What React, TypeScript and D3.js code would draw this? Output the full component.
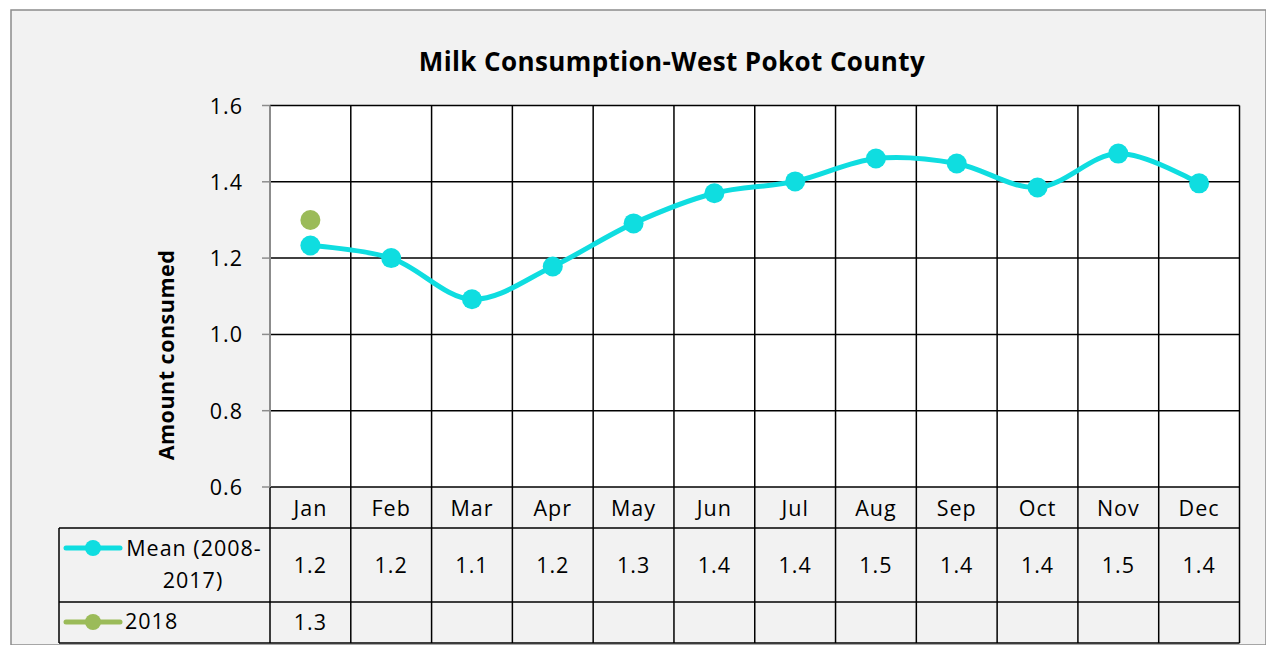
import React, { useEffect, useRef } from "react";
import * as d3 from "d3";

const months = ["Jan", "Feb", "Mar", "Apr", "May", "Jun", "Jul", "Aug", "Sep", "Oct", "Nov", "Dec"];
const meanValues = [1.233, 1.2, 1.092, 1.178, 1.291, 1.37, 1.401, 1.461, 1.448, 1.385, 1.474, 1.396];
const values2018 = [1.3];
const yTicks = [0.6, 0.8, 1.0, 1.2, 1.4, 1.6];
const title = "Milk Consumption-West Pokot County";
const yTitle = "Amount consumed";
const meanLabel = ["Mean (2008-", "2017)"];
const label2018 = "2018";

const W = 1266, H = 645;
const FONT = "'Open Sans', sans-serif";
const FS = 21.5;
const LS = 1;

export default function App() {
  const ref = useRef<SVGSVGElement>(null);
  useEffect(() => {
    const svg = d3.select(ref.current);
    svg.selectAll("*").remove();

    const left = 270, right = 1239.5, top = 105.5, bottom = 487;
    const tableLeft = 59;
    const rowHeader = [487, 528];
    const rowMean = [528, 602];
    const row2018 = [602, 643];

    svg.append("rect").attr("x", 0).attr("y", 0).attr("width", W).attr("height", H).attr("fill", "#ffffff");
    svg.append("rect").attr("x", 11).attr("y", 10).attr("width", W - 11).attr("height", H - 10)
      .attr("fill", "#f2f2f2").attr("stroke", "#8c8c8c").attr("stroke-width", 1.5);

    const x = d3.scaleBand<string>().domain(months).range([left, right]).padding(0);
    const y = d3.scaleLinear().domain([0.6, 1.6]).range([bottom, top]);

    svg.append("rect").attr("x", left).attr("y", top).attr("width", right - left).attr("height", bottom - top).attr("fill", "#ffffff");

    const g = svg.append("g");
    yTicks.forEach((t) => {
      g.append("line").attr("x1", left).attr("x2", right).attr("y1", y(t)).attr("y2", y(t))
        .attr("stroke", "#000").attr("stroke-width", 1.5);
    });
    months.forEach((m) => {
      const xx = (x(m) as number) + x.bandwidth();
      g.append("line").attr("x1", xx).attr("x2", xx).attr("y1", top).attr("y2", row2018[1])
        .attr("stroke", "#000").attr("stroke-width", 1.5);
    });
    [rowHeader[1], rowMean[1], row2018[1]].forEach((yy) => {
      g.append("line").attr("x1", tableLeft).attr("x2", right).attr("y1", yy).attr("y2", yy)
        .attr("stroke", "#000").attr("stroke-width", 1.5);
    });
    g.append("line").attr("x1", tableLeft).attr("x2", tableLeft).attr("y1", rowHeader[1]).attr("y2", row2018[1])
      .attr("stroke", "#000").attr("stroke-width", 1.5);
    g.append("line").attr("x1", left).attr("x2", left).attr("y1", bottom).attr("y2", row2018[1])
      .attr("stroke", "#000").attr("stroke-width", 1.5);

    g.append("line").attr("x1", left).attr("x2", left).attr("y1", top).attr("y2", bottom)
      .attr("stroke", "#8c8c8c").attr("stroke-width", 2);

    const txt = (sel: any, xx: number, yy: number, s: string, anchor = "middle", size = FS, ls = LS, weight = "normal") =>
      sel.append("text").attr("x", xx).attr("y", yy).attr("text-anchor", anchor)
        .attr("font-family", FONT).attr("font-size", size).attr("font-weight", weight)
        .attr("letter-spacing", ls).attr("fill", "#000").text(s);

    yTicks.forEach((t) => {
      g.append("line").attr("x1", left - 8).attr("x2", left).attr("y1", y(t)).attr("y2", y(t))
        .attr("stroke", "#8c8c8c").attr("stroke-width", 1.5);
      txt(g, 243, y(t) + 8, d3.format(".1f")(t), "end");
    });

    txt(svg, 672, 71, title, "middle", 26, 0.4, "bold");
    svg.append("text").attr("transform", `translate(174,355) rotate(-90)`).attr("text-anchor", "middle")
      .attr("font-family", FONT).attr("font-size", FS).attr("font-weight", "bold").attr("letter-spacing", 0.5).text(yTitle);

    const cx = (m: string) => (x(m) as number) + x.bandwidth() / 2;
    const fmt = d3.format(".1f");

    months.forEach((m, i) => {
      txt(g, cx(m), 516, m);
      txt(g, cx(m), 573, fmt(meanValues[i]));
      if (values2018[i] !== undefined) txt(g, cx(m), 630, fmt(values2018[i]));
    });

    const cyan = "#0fdde0";
    const green = "#9bbb59";

    const keyMean = 548, key2018 = 622;
    g.append("line").attr("x1", 66).attr("x2", 120).attr("y1", keyMean).attr("y2", keyMean)
      .attr("stroke", cyan).attr("stroke-width", 5).attr("stroke-linecap", "round");
    g.append("circle").attr("cx", 93).attr("cy", keyMean).attr("r", 8).attr("fill", cyan);
    txt(g, 194, 556, meanLabel[0]);
    txt(g, 193, 588, meanLabel[1]);
    g.append("line").attr("x1", 66).attr("x2", 120).attr("y1", key2018).attr("y2", key2018)
      .attr("stroke", green).attr("stroke-width", 5).attr("stroke-linecap", "round");
    g.append("circle").attr("cx", 93).attr("cy", key2018).attr("r", 8).attr("fill", green);
    txt(g, 125, 629, label2018, "start");

    const line = d3.line<number>().x((d, i) => cx(months[i])).y((d) => y(d)).curve(d3.curveCatmullRom.alpha(0.5));
    svg.append("path").datum(meanValues).attr("d", line).attr("fill", "none")
      .attr("stroke", cyan).attr("stroke-width", 5);
    svg.selectAll(".mk").data(meanValues).enter().append("circle")
      .attr("cx", (d, i) => cx(months[i])).attr("cy", (d) => y(d)).attr("r", 10).attr("fill", cyan);
    svg.selectAll(".mk2").data(values2018).enter().append("circle")
      .attr("cx", (d, i) => cx(months[i])).attr("cy", (d) => y(d)).attr("r", 10).attr("fill", green);
  }, []);
  return (
    <svg ref={ref} width={W} height={H} style={{ position: "fixed", left: 0, top: 0 }} />
  );
}
